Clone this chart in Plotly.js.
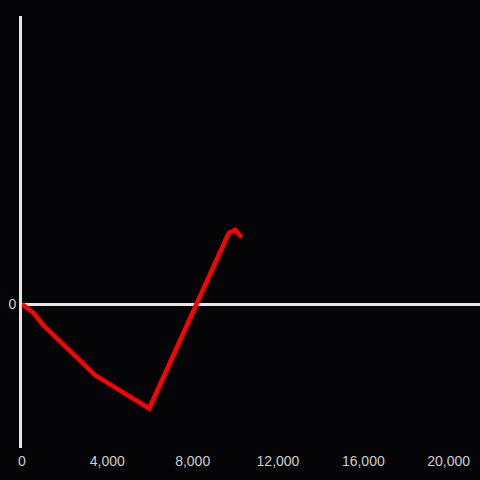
<!DOCTYPE html>
<html>
<head>
<meta charset="utf-8">
<script src="https://cdn.plot.ly/plotly-3.0.1.min.js"></script>
<style>html,body{margin:0;padding:0;background:#050406;}</style>
</head>
<body>
<div id="chart" style="width:480px;height:480px;"></div>
<script>
const xValues = [0, 520, 1030, 3420, 5960, 9690, 9990, 10300];
const yValues = [0, -0.06, -0.15, -0.49, -0.72, 0.49, 0.51, 0.46];
const xTickVals = [0, 4000, 8000, 12000, 16000, 20000];
const xTickText = ["0", "4,000", "8,000", "12,000", "16,000", "20,000"];
const yTickVals = [0];
const yTickText = ["0"];

const trace = {
  x: xValues, y: yValues, type: "scatter", mode: "lines",
  line: {color: "#ff0000", width: 4.5},
  hoverinfo: "skip"
};
const layout = {
  width: 480, height: 480,
  paper_bgcolor: "#050406", plot_bgcolor: "#050406",
  margin: {l: 22, r: 0, t: 16, b: 32},
  showlegend: false,
  font: {family: "Liberation Sans, Arial, sans-serif", color: "#cfcfcf", size: 14},
  xaxis: {
    range: [0, 21470], tickvals: xTickVals, ticktext: xTickText,
    showgrid: false, zeroline: false, showline: false, ticks: "",
    ticklabelstandoff: 3,
    tickfont: {size: 14, color: "#cfcfcf"}
  },
  yaxis: {
    range: [-0.993, 1.986], tickvals: yTickVals, ticktext: yTickText,
    showgrid: false, zeroline: true, zerolinecolor: "#e6e6e6", zerolinewidth: 3,
    showline: true, linecolor: "#e6e6e6", linewidth: 3, ticks: "",
    tickfont: {size: 14, color: "#cfcfcf"}
  }
};
Plotly.newPlot("chart", [trace], layout, {displayModeBar: false, staticPlot: true});
</script>
</body>
</html>
